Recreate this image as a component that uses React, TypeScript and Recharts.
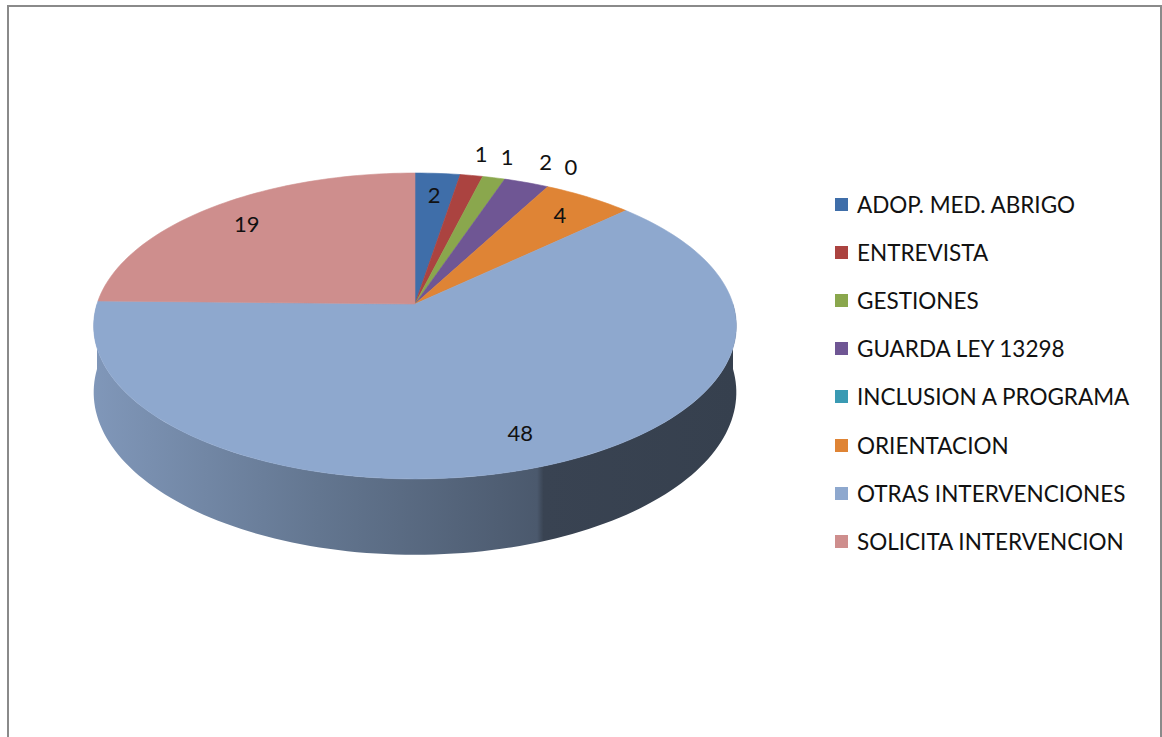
import { Cell, Legend, Pie, PieChart } from "recharts";

const categories = [
  "ADOP. MED. ABRIGO",
  "ENTREVISTA",
  "GESTIONES",
  "GUARDA LEY 13298",
  "INCLUSION A PROGRAMA",
  "ORIENTACION",
  "OTRAS INTERVENCIONES",
  "SOLICITA INTERVENCION",
];
const counts = [2, 1, 1, 2, 0, 4, 48, 19];
const colors = [
  "#3F6EA9",
  "#AB4340",
  "#8AA74D",
  "#6F5694",
  "#3A9AB3",
  "#DF8435",
  "#8EA8CE",
  "#CE8E8D",
];

const data = categories.map((name, i) => ({ name, value: counts[i] }));

const FONT = "Lato, 'Open Sans', sans-serif";
// perspective of the tilted disc
const TILT = 0.471; // vertical squash
const PERSP = -0.1436; // front looks larger than back
const DEPTH = 65;

function project(cx: number, cy: number, r: number, angle: number, f: number) {
  const rad = (angle * Math.PI) / 180;
  const u = f * Math.cos(rad);
  const v = -f * Math.sin(rad);
  const w = 1 + PERSP * v;
  return { x: cx + (r * u) / w, y: cy + (r * TILT * v) / w, w };
}

function arcPoints(cx: number, cy: number, r: number, a0: number, a1: number) {
  const n = Math.max(2, Math.ceil(Math.abs(a1 - a0) / 1.5));
  const pts = [];
  for (let i = 0; i <= n; i++) {
    pts.push(project(cx, cy, r, a0 + ((a1 - a0) * i) / n, 1));
  }
  return pts;
}

function shade(hex: string, k: number) {
  const n = parseInt(hex.slice(1), 16);
  const c = [(n >> 16) & 255, (n >> 8) & 255, n & 255].map((x) => Math.round(x * k));
  return `rgb(${c[0]},${c[1]},${c[2]})`;
}

function SideShape(props: any) {
  const { cx, cy, outerRadius, startAngle, endAngle, fill, index } = props;
  // only the front half of the rim (angles -180..0) shows a wall
  const lo = Math.max(Math.min(startAngle, endAngle), -180);
  const hi = Math.min(Math.max(startAngle, endAngle), 0);
  if (hi <= lo) return <g />;
  const top = arcPoints(cx, cy, outerRadius, hi, lo);
  const bottom = top
    .map((p) => ({ x: p.x, y: p.y + DEPTH / p.w }))
    .reverse();
  const d =
    top.map((p, i) => `${i ? "L" : "M"}${p.x.toFixed(2)},${p.y.toFixed(2)}`).join("") +
    bottom.map((p) => `L${p.x.toFixed(2)},${p.y.toFixed(2)}`).join("") +
    "Z";
  const id = `side-${index}`;
  return (
    <g>
      <defs>
        <linearGradient id={id} x1="0" y1="0" x2="1" y2="0">
          <stop offset="0%" stopColor={shade(fill, 0.9)} />
          <stop offset="35%" stopColor={shade(fill, 0.7)} />
          <stop offset="69%" stopColor={shade(fill, 0.53)} />
          <stop offset="70%" stopColor={shade(fill, 0.4)} />
          <stop offset="100%" stopColor={shade(fill, 0.38)} />
        </linearGradient>
      </defs>
      <path d={d} fill={`url(#${id})`} />
    </g>
  );
}

function TopShape(props: any) {
  const { cx, cy, outerRadius, startAngle, endAngle, fill } = props;
  if (startAngle === endAngle) return <g />;
  const pts = arcPoints(cx, cy, outerRadius, startAngle, endAngle);
  const d =
    `M${cx},${cy}` +
    pts.map((p) => `L${p.x.toFixed(2)},${p.y.toFixed(2)}`).join("") +
    "Z";
  return <path d={d} fill={fill} stroke={fill} strokeWidth={0.6} />;
}

function renderLabel(props: any) {
  const { cx, cy, outerRadius, midAngle, value, startAngle, endAngle } = props;
  // inside when the slice is wide enough on screen, otherwise just outside the rim
  const a = project(cx, cy, outerRadius, startAngle, 0.8);
  const b = project(cx, cy, outerRadius, endAngle, 0.8);
  const fits = Math.hypot(a.x - b.x, a.y - b.y) > 36.5;
  const p = project(cx, cy, outerRadius, midAngle, fits ? 0.82 : 1.2);
  return (
    <text
      x={p.x}
      y={p.y}
      textAnchor="middle"
      dominantBaseline="central"
      fill="#111"
      fontFamily={FONT}
      fontSize={22}
    >
      {value}
    </text>
  );
}

function renderLegend(props: any) {
  const seen = new Set<string>();
  const items = (props.payload || []).filter((e: any) => {
    if (e.type === "none" || seen.has(e.value)) return false;
    seen.add(e.value);
    return true;
  });
  return (
    <div style={{ fontFamily: FONT, fontSize: 22.5, color: "#111" }}>
      {items.map((entry: any) => (
        <div
          key={entry.value}
          style={{ display: "flex", alignItems: "center", height: 48.2, whiteSpace: "nowrap" }}
        >
          <span
            style={{
              width: 13,
              height: 13,
              background: entry.color,
              marginRight: 9,
              display: "inline-block",
              flex: "none",
            }}
          />
          <span>{entry.value}</span>
        </div>
      ))}
    </div>
  );
}

export default function App() {
  return (
    <div style={{ position: "absolute", left: 0, top: 0, width: 1162, height: 737, background: "#fff" }}>
      <div
        style={{
          position: "absolute",
          left: 7,
          top: 5,
          width: 1155,
          height: 732,
          boxSizing: "border-box",
          border: "2px solid #8a8a8a",
          borderBottom: "none",
        }}
      />
      <PieChart
        width={1162}
        height={737}
        margin={{ top: 0, right: 0, bottom: 0, left: 0 }}
        style={{ position: "absolute", left: 0, top: 0 }}
      >
        <Pie
          data={data}
          dataKey="value"
          nameKey="name"
          cx={415}
          cy={304}
          outerRadius={318}
          startAngle={90}
          endAngle={-270}
          legendType="none"
          shape={SideShape}
          isAnimationActive={false}
        >
          {data.map((d, i) => (
            <Cell key={d.name} fill={colors[i]} />
          ))}
        </Pie>
        <Pie
          data={data}
          dataKey="value"
          nameKey="name"
          cx={415}
          cy={304}
          outerRadius={318}
          startAngle={90}
          endAngle={-270}
          shape={TopShape}
          label={renderLabel}
          labelLine={false}
          isAnimationActive={false}
        >
          {data.map((d, i) => (
            <Cell key={d.name} fill={colors[i]} />
          ))}
        </Pie>
        <Legend
          layout="vertical"
          align="right"
          verticalAlign="top"
          content={renderLegend}
          wrapperStyle={{ left: 835, top: 180, width: 320 }}
        />
      </PieChart>
    </div>
  );
}
